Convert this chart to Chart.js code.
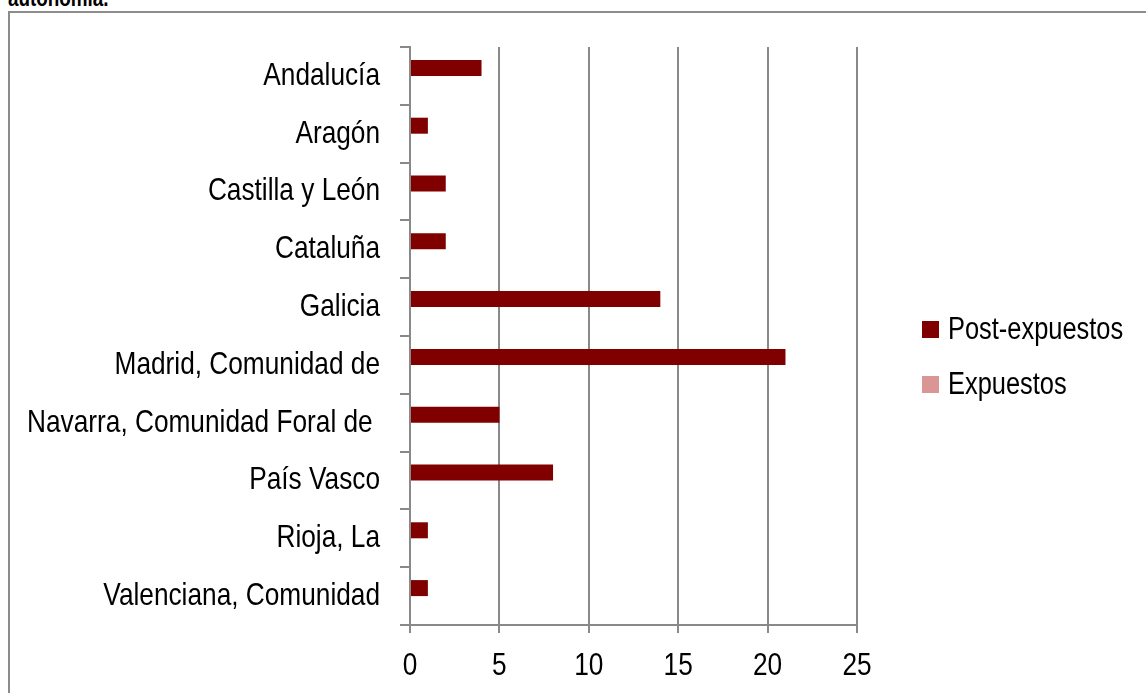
<!DOCTYPE html>
<html>
<head>
<meta charset="utf-8">
<script src="https://cdn.jsdelivr.net/npm/chart.js@4.4.1/dist/chart.umd.min.js"></script>
<style>
  html, body { margin: 0; padding: 0; background: #fff; width: 1146px; height: 693px; overflow: hidden; }
  #title { position: absolute; left: 8px; top: -15px; line-height: 26px; font: bold 23px 'Liberation Sans', Arial, sans-serif; color: #000; white-space: nowrap; transform: scaleX(0.82); transform-origin: 0 0; }
  #frame { position: absolute; left: 8px; top: 11px; width: 1200px; height: 800px; border: 2px solid #8c8c8c; box-sizing: border-box; }
  #wrap { position: absolute; left: 0; top: 0; width: 1146px; height: 693px; }
</style>
</head>
<body>
<div id="title">autonomía.</div>
<div id="frame"></div>
<div id="wrap"><canvas id="chart" width="1146" height="693"></canvas></div>
<script>
// Comunidades autónomas and case counts per series
const categories = [
  'Andalucía',
  'Aragón',
  'Castilla y León',
  'Cataluña',
  'Galicia',
  'Madrid, Comunidad de',
  'Navarra, Comunidad Foral de ',
  'País Vasco',
  'Rioja, La',
  'Valenciana, Comunidad'
];
const postExpuestos = [4, 1, 2, 2, 14, 21, 5, 8, 1, 1];
const expuestos = [0, 0, 0, 0, 0, 0, 0, 0, 0, 0];

// Value axis range
const xMin = 0;
const xMax = 25;
const xStep = 5;

const FONT = "'Liberation Sans', Arial, sans-serif";
const GRID = '#898989';
const NARROW = 0.82; // horizontal squeeze giving a narrow sans face

const canvas = document.getElementById('chart');
const ctx2d = canvas.getContext('2d');

// Narrow lettering: squeeze every text run horizontally around its anchor point
const baseFillText = ctx2d.fillText.bind(ctx2d);
const baseMeasureText = ctx2d.measureText.bind(ctx2d);
ctx2d.fillText = function (text, x, y, maxWidth) {
  this.save();
  this.translate(x, y);
  this.scale(NARROW, 1);
  baseFillText(text, 0, 0);
  this.restore();
};
ctx2d.measureText = function (text) {
  const m = baseMeasureText(text);
  return {
    width: m.width * NARROW,
    actualBoundingBoxAscent: m.actualBoundingBoxAscent,
    actualBoundingBoxDescent: m.actualBoundingBoxDescent,
    actualBoundingBoxLeft: m.actualBoundingBoxLeft * NARROW,
    actualBoundingBoxRight: m.actualBoundingBoxRight * NARROW
  };
};

// Legend drawn to the right of the plot, one square + label per dataset
const sideLegend = {
  id: 'sideLegend',
  afterDraw(chart) {
    const { ctx, chartArea } = chart;
    ctx.save();
    ctx.font = '31px ' + FONT;
    ctx.textBaseline = 'middle';
    ctx.textAlign = 'left';
    const x0 = chartArea.right + 65;
    chart.data.datasets.forEach((ds, i) => {
      const y = 321 + i * 55;
      ctx.fillStyle = ds.backgroundColor;
      ctx.fillRect(x0, y, 17, 17);
      ctx.fillStyle = '#000';
      ctx.fillText(ds.label, x0 + 26, y + 9);
    });
    ctx.restore();
  }
};

new Chart(ctx2d, {
  type: 'bar',
  data: {
    labels: categories,
    datasets: [
      { label: 'Post-expuestos', data: postExpuestos, backgroundColor: '#800000', borderWidth: 0 },
      { label: 'Expuestos', data: expuestos, backgroundColor: '#D99694', borderWidth: 0 }
    ]
  },
  options: {
    indexAxis: 'y',
    responsive: false,
    animation: false,
    layout: { padding: { top: 47, left: 0, right: 289, bottom: 0 } },
    datasets: { bar: { categoryPercentage: 0.554, barPercentage: 1 } },
    plugins: { legend: { display: false }, tooltip: { enabled: false } },
    scales: {
      x: {
        min: xMin,
        max: xMax,
        ticks: { stepSize: xStep, color: '#000', font: { family: FONT, size: 32 }, padding: 14 },
        grid: { color: GRID, lineWidth: 2, tickLength: 8 },
        border: { color: GRID, width: 2 },
        afterFit(scale) { scale.height = 68; }
      },
      y: {
        ticks: { color: '#000', font: { family: FONT, size: 32 }, padding: 20, autoSkip: false },
        grid: { offset: true, drawOnChartArea: false, color: GRID, lineWidth: 2, tickLength: 10 },
        border: { color: GRID, width: 2 },
        afterFit(scale) { scale.width = 410; }
      }
    }
  },
  plugins: [sideLegend]
});
</script>
</body>
</html>
